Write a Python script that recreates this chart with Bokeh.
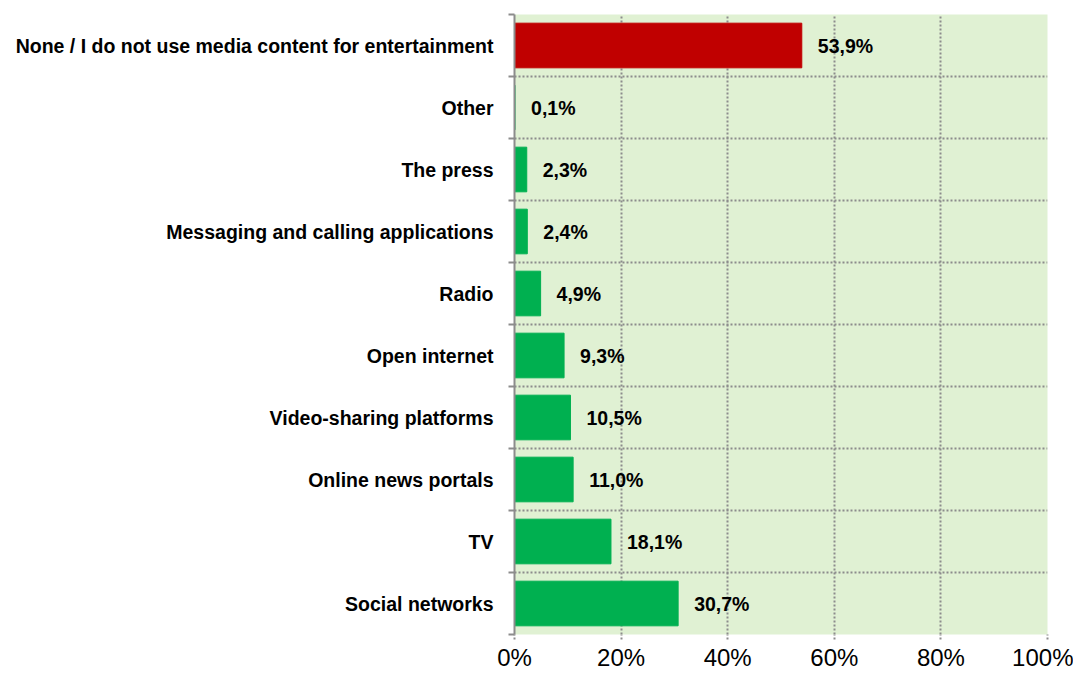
from bokeh.plotting import figure
from bokeh.models import Range1d, FixedTicker, ColumnDataSource, LabelSet
from bokeh.embed import file_html
from bokeh.resources import INLINE
from bokeh.core.properties import value

categories = ["None / I do not use media content for entertainment", "Other", "The press",
              "Messaging and calling applications", "Radio", "Open internet",
              "Video-sharing platforms", "Online news portals", "TV", "Social networks"]
values = [53.9, 0.1, 2.3, 2.4, 4.9, 9.3, 10.5, 11.0, 18.1, 30.7]
colors = ["#C00000"] + ["#00B050"] * 9
x_ticks = [0, 20, 40, 60, 80, 100]

n = len(categories)
ypos = [n - 1 - i + 0.5 for i in range(n)]
labels = [("%.1f%%" % v).replace(".", ",") for v in values]

src = ColumnDataSource(dict(y=ypos, v=values, c=colors, lab=labels))

FONT = "Liberation Sans"

p = figure(width=1073, height=673, output_backend="svg", toolbar_location=None,
           x_range=Range1d(0, 100), y_range=Range1d(0, n),
           min_border_left=514, min_border_right=26, min_border_top=14, min_border_bottom=39)
p.background_fill_color = "#E0F1D3"
p.outline_line_color = None

p.hbar(y="y", right="v", left=0, height=0.72, color="c", source=src)

p.add_layout(LabelSet(x="v", y="y", text="lab", source=src, x_offset=16, y_offset=0,
                      text_baseline="middle", text_font=value(FONT), text_font_style="bold",
                      text_font_size="19.5px", text_color="#000000"))

# grids
p.xgrid.ticker = FixedTicker(ticks=x_ticks)
p.xgrid.grid_line_color = "#8C8C8C"
p.xgrid.grid_line_dash = "2 2"
p.xgrid.grid_line_width = 2
p.ygrid.ticker = FixedTicker(ticks=list(range(n + 1)))
p.ygrid.grid_line_color = "#8C8C8C"
p.ygrid.grid_line_dash = "2 2"
p.ygrid.grid_line_width = 2

# x axis
xa = p.xaxis[0]
xa.ticker = FixedTicker(ticks=x_ticks)
xa.major_label_overrides = {t: "%d%%" % t for t in x_ticks}
xa.axis_line_color = None
xa.major_tick_line_color = "#8C8C8C"
xa.major_tick_line_width = 2
xa.major_tick_line_dash = "2 2"
xa.major_tick_out = 5
xa.major_tick_in = 0
xa.minor_tick_line_color = None
xa.major_label_text_font = FONT
xa.major_label_text_font_size = "24px"
xa.major_label_text_color = "#000000"
xa.major_label_standoff = 4

# y axis
ya = p.yaxis[0]
ya.ticker = FixedTicker(ticks=ypos, minor_ticks=list(range(n + 1)))
ya.major_label_overrides = {y: c for y, c in zip(ypos, categories)}
ya.axis_line_color = "#8C8C8C"
ya.axis_line_width = 2
ya.major_tick_line_color = None
ya.major_tick_out = 0
ya.minor_tick_line_color = "#8C8C8C"
ya.minor_tick_line_width = 2
ya.minor_tick_out = 6
ya.minor_tick_in = 0
ya.major_label_text_font = FONT
ya.major_label_text_font_style = "bold"
ya.major_label_text_font_size = "19.5px"
ya.major_label_text_color = "#000000"
ya.major_label_standoff = 15

open("out.html", "w").write(file_html(p, INLINE))
